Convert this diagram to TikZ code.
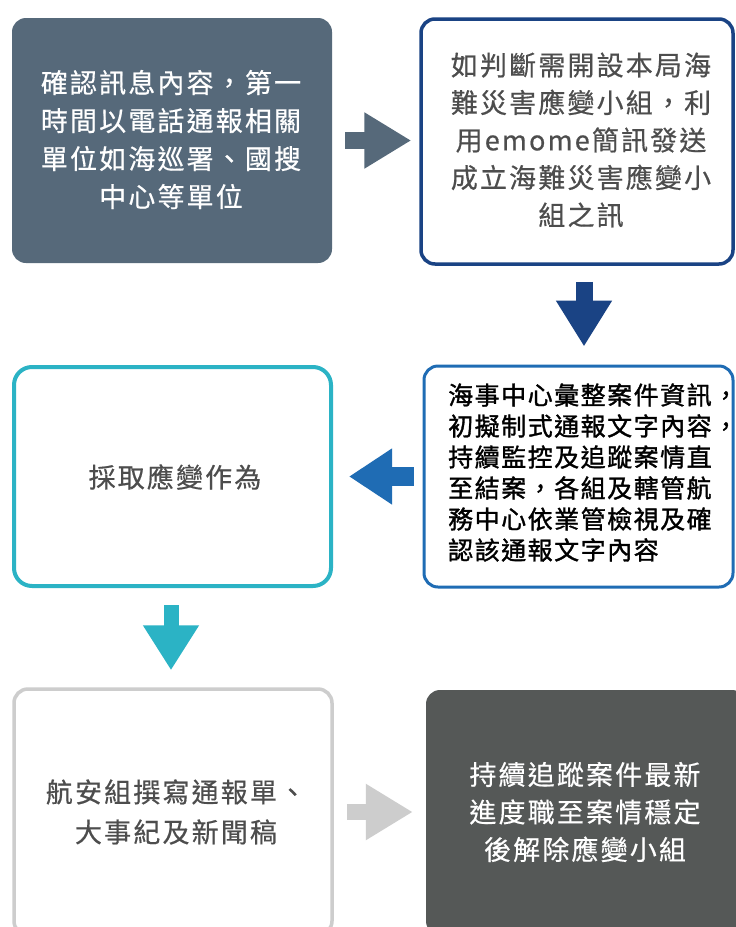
\documentclass[tikz,border=0pt]{standalone}
\usepackage{fontspec}
\setmainfont{Noto Sans CJK TC}
\newfontfamily\cjkA[Script=CJK, Language=Chinese Traditional, LetterSpace=8, FakeBold=0.5]{Noto Sans CJK TC}
\newfontfamily\cjkB[Script=CJK, Language=Chinese Traditional, LetterSpace=6, FakeBold=1.3]{Noto Sans CJK TC}
\usetikzlibrary{arrows.meta}
\definecolor{cSlate}{HTML}{56697A}
\definecolor{cNavy}{HTML}{1A4384}
\definecolor{cMidBlue}{HTML}{1F6CB4}
\definecolor{cTeal}{HTML}{2BB3C5}
\definecolor{cLight}{HTML}{CDCDCD}
\definecolor{cDark}{HTML}{555857}
\definecolor{cText}{HTML}{4D4D4D}
\begin{document}
\begin{tikzpicture}[x=1pt,y=-1pt,
  box/.style={rectangle, rounded corners=14pt, inner sep=0pt},
  txtA/.style={inner sep=0pt, align=center, font=\cjkA\fontsize{27}{38}\selectfont},
  blockarrow/.style n args={3}{draw=#1, line width=#2, -{Triangle[width=53pt,length=#3]}}
]
\useasboundingbox (0,0) rectangle (736,927);
\clip (0,0) rectangle (736,927);
\fill[white] (0,0) rectangle (736,927);

% boxes
\node[box, fill=cSlate, minimum width=320pt, minimum height=245pt] (b1) at (172,140.5) {};
\node[box, draw=cNavy, line width=3.5pt, minimum width=312pt, minimum height=245pt] (b2) at (577,141.5) {};
\node[box, draw=cMidBlue, line width=3pt, minimum width=309pt, minimum height=221pt] (b3) at (578.5,476.5) {};
\node[box, draw=cTeal, line width=4pt, rounded corners=18pt, minimum width=317pt, minimum height=219pt] (b4) at (172.5,476.5) {};
\node[box, draw=cLight, line width=3.5pt, minimum width=318pt, minimum height=246pt] (b5) at (173,812) {};
\node[box, fill=cDark, minimum width=320pt, minimum height=245pt] (b6) at (586,812.5) {};

% texts
\node[txtA, text=white] (t1) at (171,139.5) {確認訊息內容，第一\\時間以電話通報相關\\單位如海巡署、國搜\\中心等單位};
\node[txtA, text=cText, font=\cjkA\fontsize{27}{37.5}\selectfont] (t2) at (581,140) {如判斷需開設本局海\\難災害應變小組，利\\用emome簡訊發送\\成立海難災害應變小\\組之訊};
\node[inner sep=0pt, align=left, anchor=west, text=black, font=\cjkB\fontsize{25}{31}\selectfont] (t3) at (448,472.5) {海事中心彙整案件資訊，\\初擬制式通報文字內容，\\持續監控及追蹤案情直\\至結案，各組及轄管航\\務中心依業管檢視及確\\認該通報文字內容};
\node[txtA, text=cText] (t4) at (175,477) {採取應變作為};
\node[txtA, text=cText, font=\cjkA\fontsize{27}{40}\selectfont] (t5) at (176,812) {航安組撰寫通報單、\\大事紀及新聞稿};
\node[txtA, text=white, font=\cjkA\fontsize{27}{37.5}\selectfont] (t6) at (585,812) {持續追蹤案件最新\\進度職至案情穩定\\後解除應變小組};

% block arrows
\draw[blockarrow={cSlate}{17pt}{47pt}, shorten <=13pt, shorten >=8pt] (b1.east) -- (b1.east -| b2.west);
\draw[blockarrow={cNavy}{17pt}{46pt}, shorten <=16pt, shorten >=18pt] ([xshift=7pt]b2.south) -- ([xshift=7pt]b2.south |- b3.north);
\draw[blockarrow={cMidBlue}{19pt}{43pt}, shorten <=9pt, shorten >=16pt] (b3.west) -- (b3.west -| b4.east);
\draw[blockarrow={cTeal}{15pt}{45pt}, shorten <=17pt, shorten >=17pt] ([xshift=-1.5pt]b4.south) -- ([xshift=-1.5pt]b4.south |- b5.north);
\draw[blockarrow={cLight}{16pt}{47pt}, shorten <=13pt, shorten >=13pt] (b5.east) -- (b5.east -| b6.west);
\end{tikzpicture}
\end{document}
